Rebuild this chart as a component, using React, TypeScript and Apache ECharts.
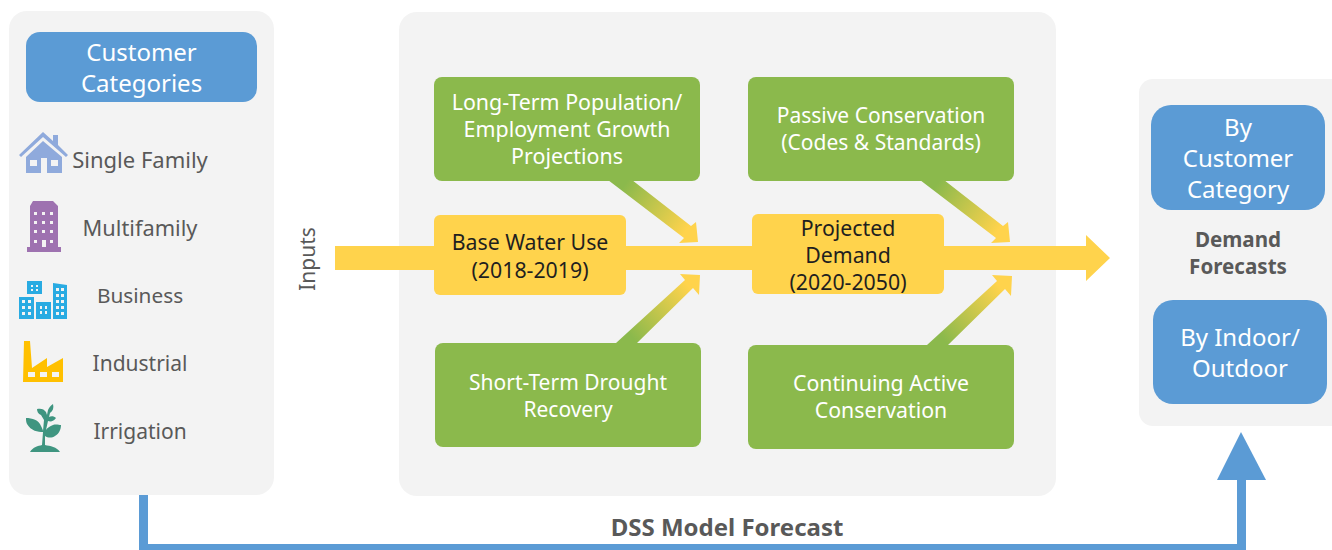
import React, { useEffect, useRef } from "react";
import * as echarts from "echarts";

const customerHeader = "Customer\nCategories";
const customerCategories = ["Single Family", "Multifamily", "Business", "Industrial", "Irrigation"];
const inputsLabel = "Inputs";
const baseLabel = "Base Water Use\n(2018-2019)";
const projectedLabel = "Projected\nDemand\n(2020-2050)";
const longTermLabel = "Long-Term Population/\nEmployment Growth\nProjections";
const passiveLabel = "Passive Conservation\n(Codes & Standards)";
const droughtLabel = "Short-Term Drought\nRecovery";
const activeLabel = "Continuing Active\nConservation";
const byCustomerLabel = "By\nCustomer\nCategory";
const byIndoorLabel = "By Indoor/\nOutdoor";
const demandLabel = "Demand\nForecasts";
const dssLabel = "DSS Model Forecast";

const FONT = "'Noto Sans', 'Open Sans', sans-serif";
const PANEL = "#f3f3f3";
const BLUE = "#5b9bd5";
const GREEN = "#8bb94c";
const YELLOW = "#ffd34c";
const GREY = "#595959";

function win(xs: number[], ys: number[], w: number, h: number) {
  let s = "";
  for (const y of ys) for (const x of xs) s += `M${x} ${y}V${y + h}H${x + w}V${y}Z`;
  return s;
}

echarts.graphic.registerShape("iconHouse", echarts.graphic.extendPath(
  "M43 132L53 141V135H58V145L68 155L66 157L43 137L21 157L19 155Z" +
  "M43 141L62 157V173H47V158H41V173H26V157Z" + win([30, 51], [160], 7, 6), {}));
echarts.graphic.registerShape("iconTower", echarts.graphic.extendPath(
  "M33 201H53L58 206V247H61V252H27V247H30V206Z" +
  win([34, 42, 50], [212, 221, 230], 3, 3) + win([34, 50], [240], 3, 3) + "M42 240V247H46V240Z", {}));
echarts.graphic.registerShape("iconCity", echarts.graphic.extendPath(
  "M27 281H42V294H27Z" + win([31, 36], [285, 289], 2, 2) +
  "M19 297H34V319H19Z" + win([22, 28], [300, 306, 312], 3, 3) +
  "M36 302H51V319H36Z" + win([40, 45], [306, 311], 2, 3) +
  "M53 283L67 285V319H53Z" + win([56, 61], [288, 294, 300, 306, 312], 3, 3), {}));
echarts.graphic.registerShape("iconFactory", echarts.graphic.extendPath(
  "M24 341H30L32 368L47 358V367L63 358V382H23Z" + win([28, 40, 52], [372], 7, 5), {}));
echarts.graphic.registerShape("iconPlant", echarts.graphic.extendPath(
  "M30 452C33 447 38 446 42 445L43 432C38 432 31 431 27 424C26 422 26 420 26 418C32 418 39 420 41 426C42 428 43 430 43 431L44 420L41 415C38 414 37 411 37 409C41 408 44 409 46 412L47 415L48 410C49 408 50 406 53 404C54 408 53 411 50 413L49 417C51 416 54 416 56 418C54 421 51 422 48 421L46 430C47 428 50 426 53 425C56 424 59 425 61 425C61 429 59 434 55 436C52 438 48 438 45 436L45 445C50 446 57 447 60 452Z", {}));

function rr(x: number, y: number, w: number, h: number, fill: string, r: number, text?: string, fs?: number, lh?: number, color?: string, dy = 0) {
  const els: any[] = [{ type: "rect", shape: { x, y, width: w, height: h, r }, style: { fill } }];
  if (text) {
    els.push({
      type: "text", x: x + w / 2, y: y + h / 2 + dy,
      style: { text, fill: color ?? "#fff", font: `${fs}px ${FONT}`, lineHeight: lh, align: "center", verticalAlign: "middle" },
    });
  }
  return els;
}
function label(text: string, x: number, y: number, fs: number, fill: string, weight = "normal", lh?: number) {
  return { type: "text", x, y, style: { text, fill, font: `${weight} ${fs}px ${FONT}`, lineHeight: lh ?? fs * 1.2, align: "center", verticalAlign: "middle" } };
}
function grad(x: number, y: number, x2: number, y2: number) {
  return new echarts.graphic.LinearGradient(x, y, x2, y2, [
    { offset: 0, color: GREEN }, { offset: 0.15, color: GREEN }, { offset: 0.85, color: YELLOW }, { offset: 1, color: YELLOW },
  ], true);
}
function poly(points: number[][], fill: any) {
  return { type: "polygon", shape: { points }, style: { fill } };
}

export default function App() {
  const ref = useRef<HTMLDivElement>(null);
  useEffect(() => {
    document.body.style.margin = "0";
    document.body.style.background = "#fff";
    const chart = echarts.init(ref.current!, undefined, { renderer: "svg" });
    const elements: any[] = [
      ...rr(9, 11, 265, 484, PANEL, 18),
      ...rr(399, 12, 657, 484, PANEL, 18),
      ...rr(1139, 79, 210, 347, PANEL, 14),

      poly([[139, 495], [148, 495], [148, 544], [1237, 544], [1237, 480], [1246, 480], [1246, 550], [139, 550]], BLUE),
      poly([[1241, 432], [1217, 480], [1266, 480]], BLUE),

      ...rr(26, 32, 231, 70, BLUE, 14, customerHeader, 24, 31),
      ...rr(1151, 105, 174, 105, BLUE, 20, byCustomerLabel, 24, 31),
      ...rr(1153, 300, 174, 104, BLUE, 20, byIndoorLabel, 24, 31),

      poly([[335, 246], [1086, 246], [1086, 235], [1110, 258], [1086, 281], [1086, 270], [335, 270]], YELLOW),

      ...rr(434, 77, 266, 104, GREEN, 8, longTermLabel, 21.4, 27, "#fff", -0.8),
      ...rr(748, 77, 266, 104, GREEN, 8, passiveLabel, 21, 27, "#fff", -0.8),
      ...rr(435, 343, 266, 104, GREEN, 8, droughtLabel, 21, 27, "#fff", 0),
      ...rr(748, 345, 266, 104, GREEN, 8, activeLabel, 21.3, 27, "#fff", -0.8),

      poly([[608, 180], [632, 180], [691, 226], [696, 222], [698, 242], [679, 243], [684, 238]], grad(608, 180, 698, 242)),
      poly([[616, 343], [637, 343], [693, 288], [699, 295], [700, 275], [680, 274], [685, 280]], grad(616, 343, 700, 275)),
      poly([[920, 180], [944, 180], [1003, 226], [1008, 222], [1010, 242], [991, 243], [996, 238]], grad(920, 180, 1010, 242)),
      poly([[927, 345], [948, 345], [1005, 289], [1011, 296], [1012, 276], [992, 275], [997, 281]], grad(927, 345, 1012, 276)),

      ...rr(434, 215, 192, 80, YELLOW, 6, baseLabel, 21.3, 28, "#1f1f1f"),
      ...rr(752, 214, 192, 80, YELLOW, 6, projectedLabel, 21.3, 27, "#1f1f1f"),

      { type: "iconHouse", style: { fill: "#8faadc" } },
      { type: "iconTower", style: { fill: "#9e72b0" } },
      { type: "iconCity", style: { fill: "#29abe2" } },
      { type: "iconFactory", style: { fill: "#ffc000" } },
      { type: "iconPlant", style: { fill: "#3f9580" } },

      label(customerCategories[0], 140, 159, 22, GREY),
      label(customerCategories[1], 140, 227, 21.8, GREY),
      label(customerCategories[2], 140, 295, 20.8, GREY),
      label(customerCategories[3], 140, 363, 21, GREY),
      label(customerCategories[4], 140, 431, 21, GREY),

      { ...label(inputsLabel, 0, 0, 21, GREY), x: 307, y: 259, rotation: Math.PI / 2 },
      label(demandLabel, 1238, 252, 20.6, GREY, "bold", 27),
      label(dssLabel, 727, 526, 24, GREY, "bold"),
    ];
    chart.setOption({ animation: false, graphic: { elements } });
    return () => chart.dispose();
  }, []);
  return <div ref={ref} style={{ width: 1332, height: 550 }} />;
}
